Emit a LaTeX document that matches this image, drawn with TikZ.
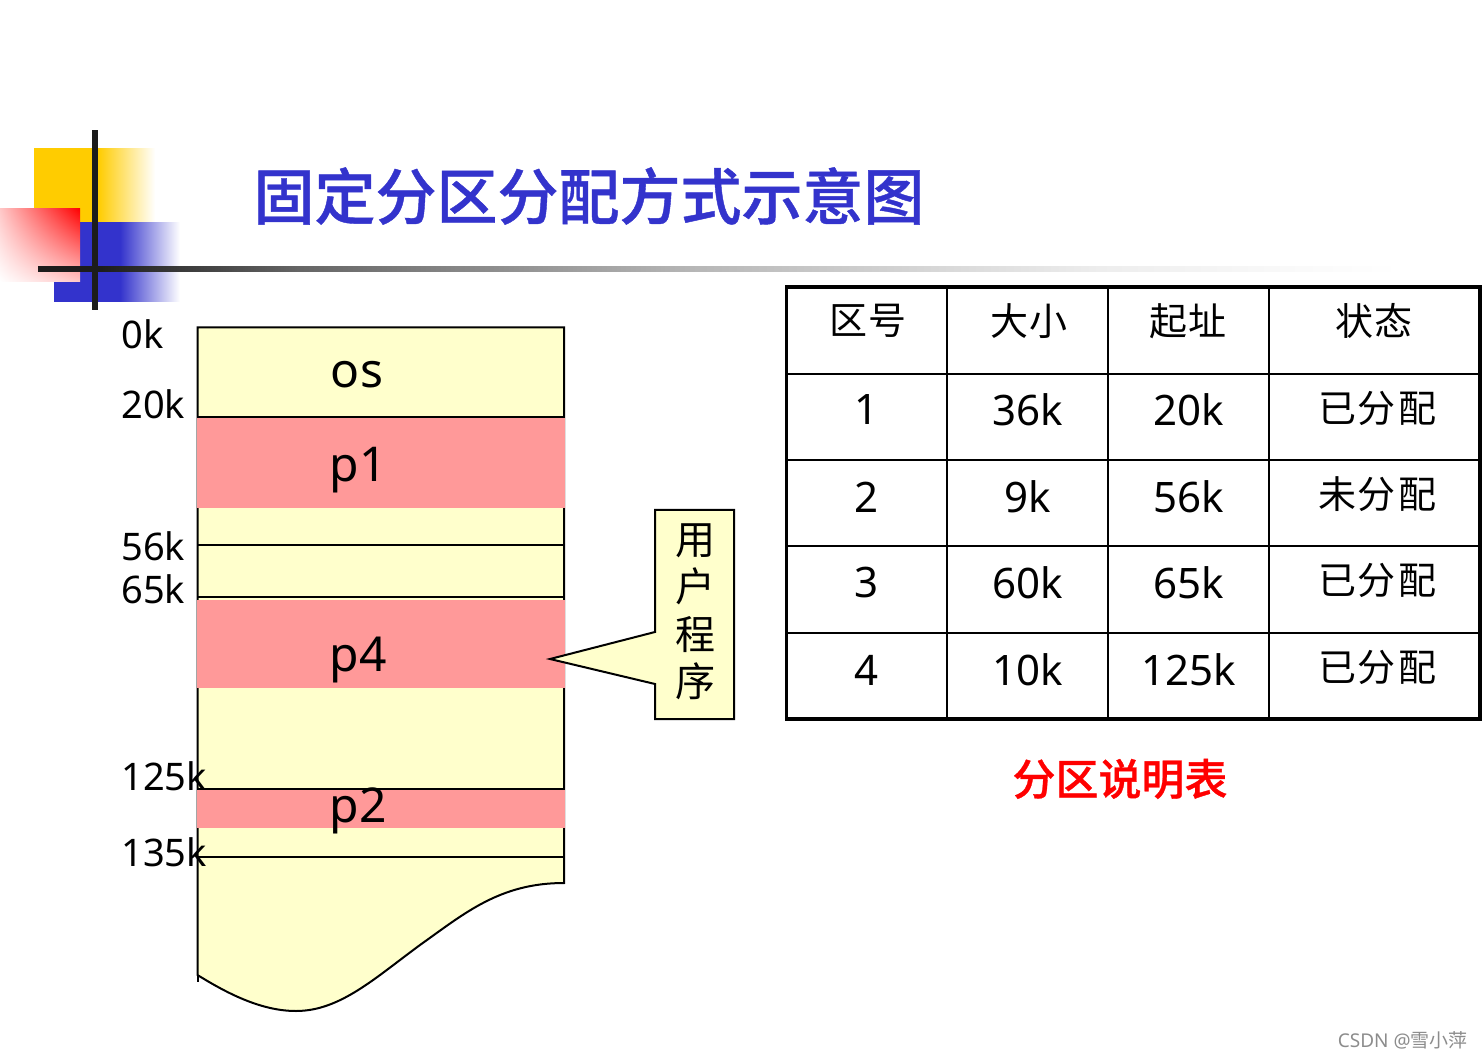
\documentclass[tikz,border=0pt]{standalone}
\usepackage{fontspec}
\usetikzlibrary{shadings}
\setmainfont{Noto Sans}
\newfontfamily\cjk{Noto Sans CJK SC}
\newfontfamily\cjkmed[FakeBold=0.7]{Noto Sans CJK SC Medium}
\definecolor{memyellow}{HTML}{FFFFCC}
\definecolor{usedpink}{HTML}{FF9999}
\definecolor{slideblue}{HTML}{3333CC}
\definecolor{slideyellow}{HTML}{FFCC00}
\definecolor{slidedark}{HTML}{1C1C1C}
\pgfdeclarehorizontalshading{rulefade}{100bp}{color(0bp)=(slidedark); color(25bp)=(slidedark); color(32.8bp)=(black!60); color(48.1bp)=(black!28); color(63.5bp)=(black!7); color(71.2bp)=(black!2); color(75bp)=(white); color(100bp)=(white)}
\tikzset{
addr/.style={anchor=west,inner sep=0pt,font=\fontsize{19}{19}\selectfont},
proc/.style={inner sep=0pt,font=\fontsize{24}{24}\selectfont},
cell/.style={inner sep=0pt,font=\fontsize{21}{21}\selectfont},
cellcjk/.style={inner sep=0pt,font=\cjk\fontsize{19}{19}\selectfont},
}
\begin{document}
\begin{tikzpicture}[x=0.5pt,y=-0.5pt]
\useasboundingbox (0,0) rectangle (1482,1058);
% corner decoration
\shade[left color=slideyellow,right color=white] (98,148.5) rectangle (155,221.5);
\fill[slideyellow] (34,148) rectangle (99,222);
\shade[left color=slideblue,right color=white] (120,222.5) rectangle (180,301.5);
\fill[slideblue] (54,222) rectangle (121,302);
\shade[lower left=white,upper right=red,upper left=red!22!white,lower right=red!22!white] (0,208.5) rectangle (80,281.5);
\fill[slidedark] (92,130) rectangle (98,310);
\fill[slidedark] (38,266) rectangle (98,272);
\shade[shading=rulefade] (98,266.5) rectangle (1400,271.5);
\node[inner sep=0pt,text=slideblue,font=\cjkmed\fontsize{30.5}{30.5}\selectfont] (title) at (589,196) {固定分区分配方式示意图};
% memory column
\draw[fill=memyellow,line width=1pt] (197.5,327.5) -- (564,327.5) -- (564,883) .. controls (500,883) and (465,913) .. (420,945) .. controls (375,978) and (340,1011) .. (296,1011) .. controls (260,1011) and (225,992) .. (197.5,975) -- cycle;
\draw[line width=1pt] (197.5,975) -- (197.5,982);
\fill[usedpink] (197,418) rectangle (565,508);
\fill[usedpink] (197,600) rectangle (565,688);
\fill[usedpink] (197,790) rectangle (565,828);
\foreach \y in {417,545,597,789,857} \draw[line width=1pt] (197.5,\y) -- (564,\y);
\node[addr] (a0) at (121,334) {0k};
\node[addr] (a20) at (121,404) {20k};
\node[addr] (a56) at (121,546) {56k};
\node[addr] (a65) at (121,589) {65k};
\node[addr] (a125) at (121,776) {125k};
\node[addr] (a135) at (121,852) {135k};
\node[proc] (os) at (357,375) {os};
\node[proc] (p1) at (358,470) {p1};
\node[proc] (p4) at (358,660) {p4};
\node[proc] (p2) at (358,811) {p2};
% callout
\draw[fill=memyellow,line width=1pt] (655,510) -- (734,510) -- (734,719) -- (655,719) -- (655,684) -- (550,659) -- (655,632) -- cycle;
\node[align=center,inner sep=0pt,font=\cjk\fontsize{20}{23.75}\selectfont] (user) at (695,612) {用\\户\\程\\序};
% table
\foreach \x in {947,1108,1269} \draw[line width=1pt] (\x,287) -- (\x,719);
\foreach \y in {374,460,546,633} \draw[line width=1pt] (786,\y) -- (1480,\y);
\draw[line width=1.75pt] (786.5,287) rectangle (1480,719);
\node[cellcjk] (h1) at (868,321) {区\hspace{1pt}号};
\node[cellcjk] (h2) at (1029,321) {大\hspace{1pt}小};
\node[cellcjk] (h3) at (1188,321) {起\hspace{1pt}址};
\node[cellcjk] (h4) at (1374,321) {状\hspace{1pt}态};
\node[cell] (n1) at (866,410) {1};
\node[cell] (s1) at (1028,410) {36k};
\node[cell] (b1) at (1189,410) {20k};
\node[cellcjk] (t1) at (1377,408) {已\hspace{1pt}分\hspace{1pt}配};
\node[cell] (n2) at (866,497) {2};
\node[cell] (s2) at (1028,497) {9k};
\node[cell] (b2) at (1189,497) {56k};
\node[cellcjk] (t2) at (1377,494) {未\hspace{1pt}分\hspace{1pt}配};
\node[cell] (n3) at (866,583) {3};
\node[cell] (s3) at (1028,583) {60k};
\node[cell] (b3) at (1189,583) {65k};
\node[cellcjk] (t3) at (1377,580) {已\hspace{1pt}分\hspace{1pt}配};
\node[cell] (n4) at (866,670) {4};
\node[cell] (s4) at (1028,670) {10k};
\node[cell] (b4) at (1189,670) {125k};
\node[cellcjk] (t4) at (1377,667) {已\hspace{1pt}分\hspace{1pt}配};
\node[inner sep=0pt,text=red,font=\cjkmed\fontsize{21.5}{21.5}\selectfont] (caption) at (1120,779) {分区说明表};
\node[anchor=east,inner sep=0pt,text=black!45,font=\fontsize{9.5}{9.5}\selectfont] (mark) at (1468,1040) {CSDN @{\cjk 雪小萍}};
\end{tikzpicture}
\end{document}
